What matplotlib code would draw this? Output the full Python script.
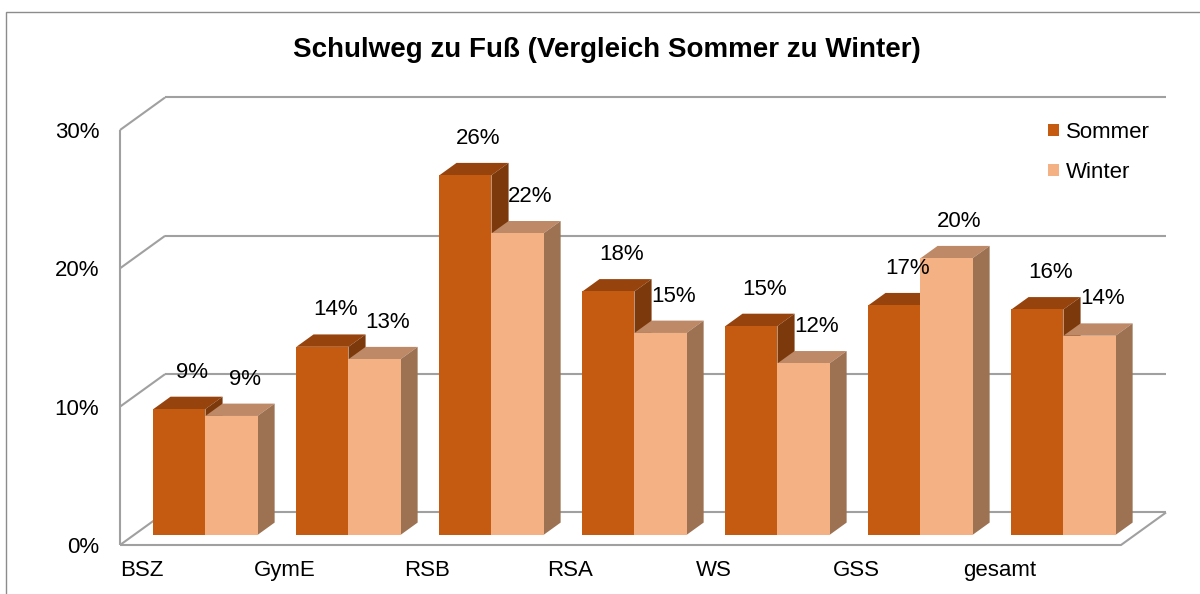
import numpy as np
import matplotlib.pyplot as plt
from matplotlib.patches import Polygon, Patch, Rectangle

plt.rcParams['font.family'] = ['Liberation Sans', 'DejaVu Sans']

categories = ['BSZ', 'GymE', 'RSB', 'RSA', 'WS', 'GSS', 'gesamt']
sommer = [9.1, 13.6, 26.0, 17.6, 15.1, 16.6, 16.3]
winter = [8.6, 12.7, 21.8, 14.6, 12.4, 20.0, 14.4]
series_names = ['Sommer', 'Winter']
y_ticks = [0, 10, 20, 30]
title = 'Schulweg zu Fuß (Vergleich Sommer zu Winter)'

# front, top, side shades
c_sommer = ('#C55A11', '#96430D', '#7C390B')
c_winter = ('#F4B183', '#BE8967', '#9D7253')
grid_col = '#A0A0A0'

# fake 3d: oblique offset of the full floor depth, in data units
DX, DY = 0.315, 2.35
D0, D1 = 0.31, 0.69   # bar front / back as fraction of floor depth
W = 0.364             # width of one bar

fig = plt.figure(figsize=(12, 5.94), dpi=100)
ax = fig.add_axes([0.1, 49 / 594, 1001 / 1200, 415 / 594])
n = len(categories)
ax.set_xlim(0, n)
ax.set_ylim(0, y_ticks[-1])
ax.set_facecolor('none')
for s in ax.spines.values():
    s.set_visible(False)

# walls and floor
gkw = dict(color=grid_col, lw=1.5, zorder=1, clip_on=False, solid_capstyle='butt')
for t in y_ticks:
    ax.plot([0, DX], [t, t + DY], **gkw)
    ax.plot([DX, n + DX], [t + DY, t + DY], **gkw)
ax.plot([0, 0], [0, y_ticks[-1]], **gkw)
ax.plot([0, n, n + DX], [0, 0, DY], **gkw)


def draw_series(xl, vals, colors, z):
    front, top, side = colors
    ax.bar(xl + D0 * DX, vals, width=W, bottom=D0 * DY, align='edge',
           color=front, lw=0, zorder=z + 0.2, clip_on=False)
    ddx, ddy = (D1 - D0) * DX, (D1 - D0) * DY
    for xi, v in zip(xl, vals):
        x0 = xi + D0 * DX
        x1 = x0 + W
        y0 = D0 * DY
        yt = v + y0
        ax.add_patch(Polygon([(x0, yt), (x1, yt), (x1 + ddx, yt + ddy), (x0 + ddx, yt + ddy)],
                             closed=True, fc=top, lw=0, zorder=z, clip_on=False))
        ax.add_patch(Polygon([(x1, y0), (x1, yt), (x1 + ddx, yt + ddy), (x1 + ddx, y0 + ddy)],
                             closed=True, fc=side, lw=0, zorder=z, clip_on=False))
        ax.annotate(f'{round(v)}%', xy=(x0 + W / 2, yt), xytext=(9.4, 26.6),
                    textcoords='offset points', ha='center', va='center',
                    fontsize=16, zorder=10, annotation_clip=False)


x = np.arange(n)
draw_series(x + 0.5 - W, sommer, c_sommer, 3)
draw_series(x + 0.5, winter, c_winter, 4)

ax.set_yticks(y_ticks, [f'{t}%' for t in y_ticks])
ax.set_xticks(x + 0.15, categories)
ax.tick_params(axis='y', length=0, pad=15, labelsize=16)
ax.tick_params(axis='x', length=0, pad=11, labelsize=16)

handles = [Patch(facecolor=c_sommer[0]), Patch(facecolor=c_winter[0])]
fig.legend(handles, series_names, loc='upper left', bbox_to_anchor=(1048 / 1200, 1 - 122 / 594),
           frameon=False, fontsize=16, handlelength=0.5, handleheight=0.5,
           handletextpad=0.3, labelspacing=0.85, borderpad=0, borderaxespad=0)

fig.text(607 / 1200, 1 - 50 / 594, title, ha='center', va='center',
         fontsize=20, fontweight='bold')

fig.add_artist(Rectangle((6 / 1200, -0.1), 1.2, 1.1 - 12 / 594, transform=fig.transFigure,
                         fill=False, ec='#8C8C8C', lw=1))

fig.savefig('out.png', dpi=100)
